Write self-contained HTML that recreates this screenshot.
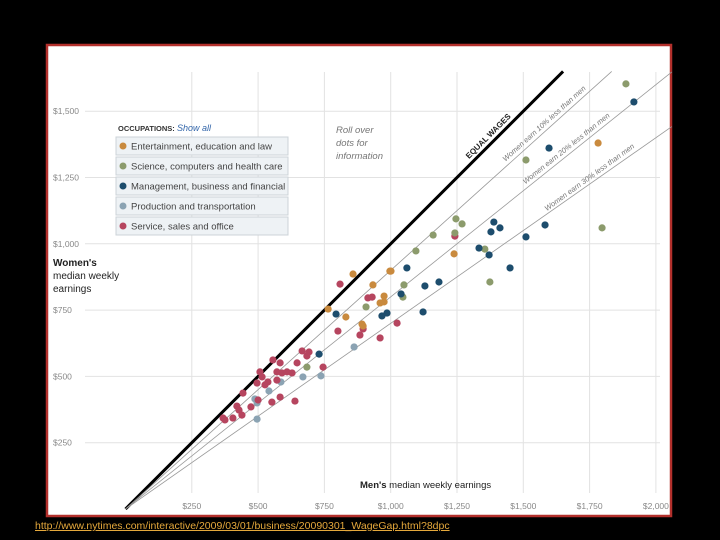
<!DOCTYPE html>
<html><head><meta charset="utf-8"><style>
html,body{margin:0;padding:0;background:#000;width:720px;height:540px;overflow:hidden;font-family:"Liberation Sans",sans-serif}
svg{position:absolute;left:0;top:0}
#link{position:absolute;left:35px;top:520px;font-size:10.5px;color:#e6a93c;text-decoration:underline;white-space:nowrap}
</style></head><body>
<svg id="chart" width="720" height="540" xmlns="http://www.w3.org/2000/svg">
<rect x="47" y="45" width="624" height="471" fill="#fff" stroke="#b3302c" stroke-width="2.5"/>
<g id="grid"></g>
<g id="refs"></g>
<g id="dots"></g>
<g id="legend" font-size="9.5">
<text x="118" y="131" font-size="7.5" font-weight="bold" fill="#333">OCCUPATIONS:</text>
<text x="177" y="131" font-size="9" fill="#36a" font-style="italic">Show all</text>
</g>
<text x="336" y="133" font-size="9.5" font-style="italic" fill="#777"><tspan x="336">Roll over</tspan><tspan x="336" dy="13">dots for</tspan><tspan x="336" dy="13">information</tspan></text>
<text x="53" y="266" font-size="10" fill="#222"><tspan x="53" font-weight="bold">Women's</tspan><tspan x="53" dy="13">median weekly</tspan><tspan x="53" dy="13">earnings</tspan></text>
<text x="360" y="488" font-size="9.5" fill="#222"><tspan font-weight="bold">Men's</tspan> median weekly earnings</text>
</svg>
<a id="link">http://www.nytimes.com/interactive/2009/03/01/business/20090301_WageGap.html?8dpc</a>
<script>
const xTicks=[250,500,750,1000,1250,1500,1750,2000];
const xTickLabels=["$250","$500","$750","$1,000","$1,250","$1,500","$1,750","$2,000"];
const yTicks=[250,500,750,1000,1250,1500];
const yTickLabels=["$250","$500","$750","$1,000","$1,250","$1,500"];
const refRatios=[1,0.9,0.8,0.7];
const refLabels=["EQUAL WAGES","Women earn 10% less than men","Women earn 20% less than men","Women earn 30% less than men"];
const categories=["Entertainment, education and law","Science, computers and health care","Management, business and financial","Production and transportation","Service, sales and office"];
const colors=["#c98a3e","#8c9b6c","#1d4d6d","#8ba3b3","#b6455f"];
const entMen=[764,831,892,896,960,975,858,997,933,1782,1239,1001,975];
const entWomen=[754,724,697,690,777,781,886,897,845,1380,962,897,803];
const sciMen=[684,907,1887,1510,1246,1269,1242,1160,1797,1095,1355,1050,1374,1046];
const sciWomen=[535,762,1603,1316,1094,1075,1041,1033,1060,973,980,845,856,799];
const mgmtMen=[730,794,967,986,1122,1917,1597,1389,1412,1378,1582,1510,1333,1371,1061,1450,1129,1182,1039];
const mgmtWomen=[584,735,728,739,743,1535,1361,1082,1060,1045,1071,1026,984,958,909,909,841,856,811];
const prodMen=[488,496,496,541,586,669,737,862];
const prodWomen=[415,400,339,445,479,498,502,611];
const servMen=[443,368,375,405,420,428,439,473,500,496,507,515,526,537,556,583,571,590,609,628,571,552,583,639,647,666,684,692,745,801,884,896,960,1024,809,914,930,1242];
const servWomen=[437,343,336,343,388,373,354,385,411,475,517,498,468,479,562,551,517,513,517,513,486,403,422,407,551,596,577,592,535,671,656,679,645,701,848,796,799,1029];

const NS="http://www.w3.org/2000/svg";
const X0=125.5,Y0=509,K=66.3/250;
const sx=v=>X0+v*K, sy=v=>Y0-v*K;
function mk(tag,at,parent){const e=document.createElementNS(NS,tag);for(const k in at)e.setAttribute(k,at[k]);parent.appendChild(e);return e;}
const grid=document.getElementById('grid');
xTicks.forEach((t,i)=>{
  const l=mk('line',{x1:sx(t),x2:sx(t),y1:72,y2:493,stroke:'#e2e2e2','stroke-width':1},grid);
  
  
  const tx=mk('text',{x:sx(t),y:509,'font-size':8.5,fill:'#888','text-anchor':'middle'},grid);
  
  
  tx.textContent=xTickLabels[i];
});
yTicks.forEach((t,i)=>{
  const l=mk('line',{x1:85,x2:660,y1:sy(t),y2:sy(t),stroke:'#e2e2e2','stroke-width':1},grid);
  
  
  const tx=mk('text',{x:53,y:sy(t)+3,'font-size':8.5,fill:'#888'},grid);
  
  
  tx.textContent=yTickLabels[i];
});
const refs=document.getElementById('refs');
refRatios.forEach((r,i)=>{
  const yEnd=1650, xEnd=Math.min(2060,yEnd/r);
  const l=mk('line',{x1:sx(0),y1:sy(0),x2:sx(xEnd),y2:sy(xEnd*r),stroke:i===0?'#000':'#999','stroke-width':i===0?3:0.8},refs);
  
  
  const lx=[1375,1585,1668,1755][i];
  const ly=lx*r+[24,20,18,15][i];
  const ang=-Math.atan(r)*180/Math.PI-(i===3?1:0);
  const t=mk('text',{x:sx(lx),y:sy(ly),'font-size':i===0?8:7.5,fill:i===0?'#222':'#777','font-weight':i===0?'bold':'normal','font-style':i===0?'normal':'italic','text-anchor':'middle',transform:`rotate(${ang} ${sx(lx)} ${sy(ly)})`},refs);
  
  
  t.textContent=refLabels[i];
});
const dots=document.getElementById('dots');
const series=[[entMen,entWomen],[sciMen,sciWomen],[mgmtMen,mgmtWomen],[prodMen,prodWomen],[servMen,servWomen]];
const order=[3,4,1,0,2];
order.forEach(ci=>{
  const [m,w]=series[ci];
  m.forEach((v,j)=>{
    const c=mk('circle',{cx:sx(v),cy:sy(w[j]),r:3.6,fill:colors[ci]},dots);
    
    
  });
});
const lg=document.getElementById('legend');
categories.forEach((c,i)=>{
  const y=137+i*20;
  const r=mk('rect',{x:116,y:y,width:172,height:18,fill:'#eef2f5',stroke:'#ccd3d8','stroke-width':1},lg);
  
  
  mk('circle',{cx:123,cy:y+9,r:3.5,fill:colors[i]},lg);
  const t=mk('text',{x:131,y:y+12.5,fill:'#444'},lg);
  
  
  t.textContent=c;
});
</script>
</body></html>
